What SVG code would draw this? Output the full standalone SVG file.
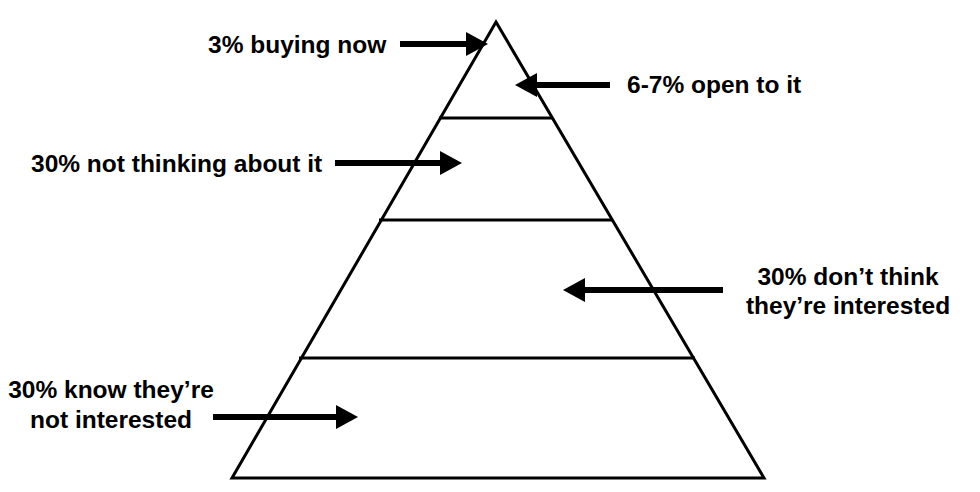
<svg xmlns="http://www.w3.org/2000/svg" width="980" height="492" viewBox="0 0 980 492">
<defs>
<style>
.lbl{font-family:"Liberation Sans",Arial,sans-serif;font-weight:bold;font-size:24.5px;fill:#000}
.edge{stroke:#000;stroke-width:3;fill:none;stroke-linejoin:miter}
.arr{stroke:#000;stroke-width:6;fill:none}
</style>
<marker id="ah" markerUnits="userSpaceOnUse" markerWidth="24" markerHeight="24" viewBox="0 0 24 24" refX="1" refY="12" orient="auto">
<path d="M0,0 L22,12 L0,24 Z" fill="#000"/>
</marker>
</defs>
<rect width="980" height="492" fill="#fff"/>
<g id="pyramid">
<path class="edge" d="M496,22 L232,478 L764,478 Z"/>
<line class="edge" x1="439" y1="118" x2="553" y2="118"/>
<line class="edge" x1="379" y1="220" x2="613" y2="220"/>
<line class="edge" x1="299" y1="358" x2="695" y2="358"/>
</g>
<g id="connectors">
<line class="arr" x1="400" y1="44" x2="467" y2="44" marker-end="url(#ah)"/>
<line class="arr" x1="610" y1="85" x2="536" y2="85" marker-end="url(#ah)"/>
<line class="arr" x1="335" y1="163" x2="441" y2="163" marker-end="url(#ah)"/>
<line class="arr" x1="723" y1="290" x2="584" y2="290" marker-end="url(#ah)"/>
<line class="arr" x1="213" y1="417" x2="337" y2="417" marker-end="url(#ah)"/>
</g>
<g id="n1"><text class="lbl" x="208" y="53">3% buying now</text></g>
<g id="n2"><text class="lbl" x="627" y="93">6-7% open to it</text></g>
<g id="n3"><text class="lbl" x="31" y="172">30% not thinking about it</text></g>
<g id="n4"><text class="lbl" x="848" y="285" text-anchor="middle">30% don’t think</text><text class="lbl" x="848" y="314" text-anchor="middle">they’re interested</text></g>
<g id="n5"><text class="lbl" x="111" y="398" text-anchor="middle">30% know they’re</text><text class="lbl" x="111" y="428" text-anchor="middle">not interested</text></g>
</svg>
